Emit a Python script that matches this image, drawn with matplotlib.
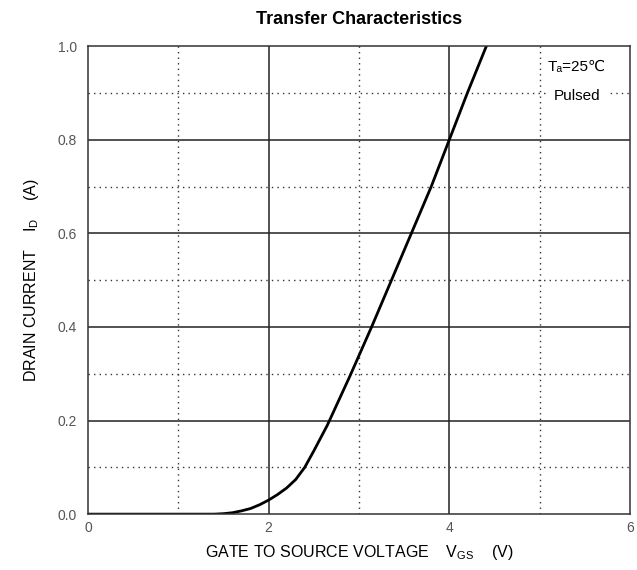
import numpy as np
import matplotlib.pyplot as plt

plt.rcParams['font.family'] = ['Liberation Sans', 'DejaVu Sans']
plt.rcParams['mathtext.fontset'] = 'custom'
plt.rcParams['mathtext.rm'] = 'Liberation Sans'

# Transfer curve
vgs = [0.0, 1.4, 1.5, 1.6, 1.7, 1.8, 1.9, 2.0, 2.1, 2.2, 2.3, 2.4, 2.5, 2.65, 2.9, 3.14, 3.36, 3.58, 3.8, 4.0, 4.2, 4.41]
i_d = [0.0, 0.0, 0.001, 0.003, 0.007, 0.012, 0.02, 0.03, 0.042, 0.056, 0.074, 0.10, 0.135, 0.19, 0.295, 0.40, 0.50, 0.60, 0.70, 0.80, 0.90, 1.00]

x_ticks = [0, 2, 4, 6]
y_ticks = [0.0, 0.2, 0.4, 0.6, 0.8, 1.0]
x_minor = [1, 3, 5]
y_minor = [0.1, 0.3, 0.5, 0.7, 0.9]

fig = plt.figure(figsize=(6.37, 5.70), dpi=100)
ax = fig.add_axes([0.138, 0.098, 0.851, 0.821])

for x in x_ticks[1:-1]:
    ax.axvline(x, color='#222222', lw=1.1)
for y in y_ticks[1:-1]:
    ax.axhline(y, color='#222222', lw=1.1)
for x in x_minor:
    ax.axvline(x, color='#333333', lw=1.0, ls=(0, (1, 3)))
for y in y_minor:
    ax.axhline(y, color='#333333', lw=1.0, ls=(0, (1, 3)))

ax.plot(vgs, i_d, color='black', lw=2)

ax.set_xlim(0, 6)
ax.set_ylim(0, 1.0)
ax.set_xticks(x_ticks)
ax.set_yticks(y_ticks)
ax.set_xticklabels([str(v) for v in x_ticks])
ax.set_yticklabels(['%.1f' % v for v in y_ticks])
ax.tick_params(axis='x', length=0, labelsize=10, labelcolor='#555555', pad=5)
ax.tick_params(axis='y', length=0, labelsize=10, labelcolor='#555555', pad=8)
for s in ax.spines.values():
    s.set_color('#333333')
    s.set_linewidth(1.1)

ax.set_title('Transfer Characteristics', fontsize=13, fontweight='bold', pad=16)
ax.set_xlabel(r'GATE TO SOURCE VOLTAGE    V$_{\rm GS}$    (V)', fontsize=11.5, labelpad=6)
ax.set_ylabel(r'DRAIN CURRENT    I$_{\rm D}$    (A)', fontsize=11.5, labelpad=12)

ax.text(0.955, 0.955, 'T\u2090=25\u2103', transform=ax.transAxes, fontsize=11,
        ha='right', va='center', backgroundcolor='white')
ax.text(0.945, 0.893, 'Pulsed', transform=ax.transAxes, fontsize=11,
        ha='right', va='center', backgroundcolor='white')

fig.savefig('out.png', dpi=100, facecolor='white')
